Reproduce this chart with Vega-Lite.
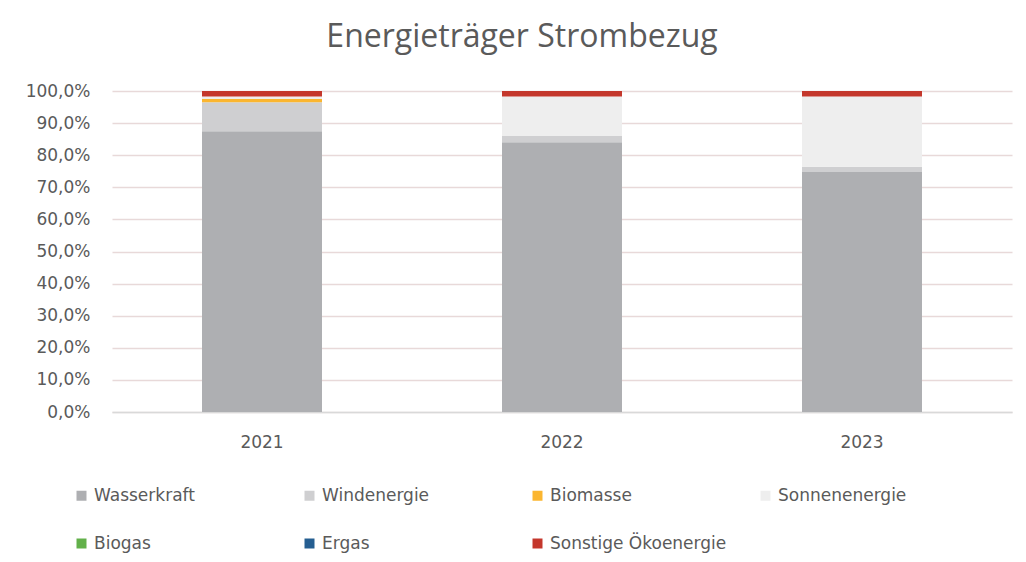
{
  "$schema": "https://vega.github.io/schema/vega-lite/v6.json",
  "width": 900,
  "height": 321,
  "autosize": {"type": "none"},
  "padding": {"left": 112, "top": 91, "right": 14, "bottom": 150},
  "background": "white",
  "title": {
    "text": "Energieträger Strombezug",
    "fontSize": 32,
    "font": "Open Sans",
    "fontWeight": "normal",
    "color": "#5a5a5a",
    "anchor": "middle",
    "dx": -40,
    "offset": 28
  },
  "data": {
    "values": [
      {"Jahr": "2021", "Rang": 1, "Energieträger": "Wasserkraft", "Anteil": 0.875},
      {"Jahr": "2021", "Rang": 2, "Energieträger": "Windenergie", "Anteil": 0.09},
      {"Jahr": "2021", "Rang": 3, "Energieträger": "Biomasse", "Anteil": 0.01},
      {"Jahr": "2021", "Rang": 4, "Energieträger": "Sonnenenergie", "Anteil": 0.008},
      {"Jahr": "2021", "Rang": 5, "Energieträger": "Biogas", "Anteil": 0},
      {"Jahr": "2021", "Rang": 6, "Energieträger": "Ergas", "Anteil": 0},
      {"Jahr": "2021", "Rang": 7, "Energieträger": "Sonstige Ökoenergie", "Anteil": 0.017},
      {"Jahr": "2022", "Rang": 1, "Energieträger": "Wasserkraft", "Anteil": 0.84},
      {"Jahr": "2022", "Rang": 2, "Energieträger": "Windenergie", "Anteil": 0.02},
      {"Jahr": "2022", "Rang": 3, "Energieträger": "Biomasse", "Anteil": 0},
      {"Jahr": "2022", "Rang": 4, "Energieträger": "Sonnenenergie", "Anteil": 0.123},
      {"Jahr": "2022", "Rang": 5, "Energieträger": "Biogas", "Anteil": 0},
      {"Jahr": "2022", "Rang": 6, "Energieträger": "Ergas", "Anteil": 0},
      {"Jahr": "2022", "Rang": 7, "Energieträger": "Sonstige Ökoenergie", "Anteil": 0.017},
      {"Jahr": "2023", "Rang": 1, "Energieträger": "Wasserkraft", "Anteil": 0.748},
      {"Jahr": "2023", "Rang": 2, "Energieträger": "Windenergie", "Anteil": 0.016},
      {"Jahr": "2023", "Rang": 3, "Energieträger": "Biomasse", "Anteil": 0},
      {"Jahr": "2023", "Rang": 4, "Energieträger": "Sonnenenergie", "Anteil": 0.219},
      {"Jahr": "2023", "Rang": 5, "Energieträger": "Biogas", "Anteil": 0},
      {"Jahr": "2023", "Rang": 6, "Energieträger": "Ergas", "Anteil": 0},
      {"Jahr": "2023", "Rang": 7, "Energieträger": "Sonstige Ökoenergie", "Anteil": 0.017}
    ]
  },
  "mark": {"type": "bar"},
  "encoding": {
    "x": {
      "field": "Jahr",
      "type": "nominal",
      "scale": {"paddingInner": 0.6, "paddingOuter": 0.3},
      "axis": {
        "title": null,
        "labelAngle": 0,
        "labelFont": "DejaVu Sans",
        "labelFontSize": 17,
        "labelColor": "#5a5a5a",
        "labelPadding": 22,
        "ticks": false,
        "domainColor": "#d9d9d9",
        "domainWidth": 1.5
      }
    },
    "y": {
      "field": "Anteil",
      "type": "quantitative",
      "stack": "zero",
      "scale": {"domain": [0, 1], "nice": false},
      "axis": {
        "title": null,
        "values": [0, 0.1, 0.2, 0.3, 0.4, 0.5, 0.6, 0.7, 0.8, 0.9, 1.0],
        "labelExpr": "replace(format(datum.value, '.1%'), '.', ',')",
        "labelFont": "DejaVu Sans",
        "labelFontSize": 17,
        "labelColor": "#5a5a5a",
        "labelPadding": 22,
        "ticks": false,
        "domain": false,
        "grid": true,
        "gridColor": "#e8d9d9",
        "gridWidth": 1.3
      }
    },
    "color": {
      "field": "Energieträger",
      "type": "nominal",
      "scale": {
        "domain": ["Wasserkraft", "Windenergie", "Biomasse", "Sonnenenergie", "Biogas", "Ergas", "Sonstige Ökoenergie"],
        "range": ["#aeafb2", "#cfcfd1", "#fbb630", "#eeeeee", "#62b04a", "#255e91", "#c4372c"]
      },
      "legend": {
        "title": null,
        "orient": "none",
        "legendX": -39,
        "legendY": 396,
        "direction": "horizontal",
        "columns": 4,
        "gridAlign": "all",
        "columnPadding": 30,
        "rowPadding": 30,
        "symbolType": "square",
        "symbolSize": 100,
        "symbolStrokeWidth": 0,
        "labelFont": "DejaVu Sans",
        "labelFontSize": 17,
        "labelLimit": 400,
        "labelColor": "#5a5a5a",
        "labelOffset": 4
      }
    },
    "order": {"field": "Rang", "type": "quantitative", "sort": "ascending"}
  },
  "config": {"view": {"stroke": null}}
}
